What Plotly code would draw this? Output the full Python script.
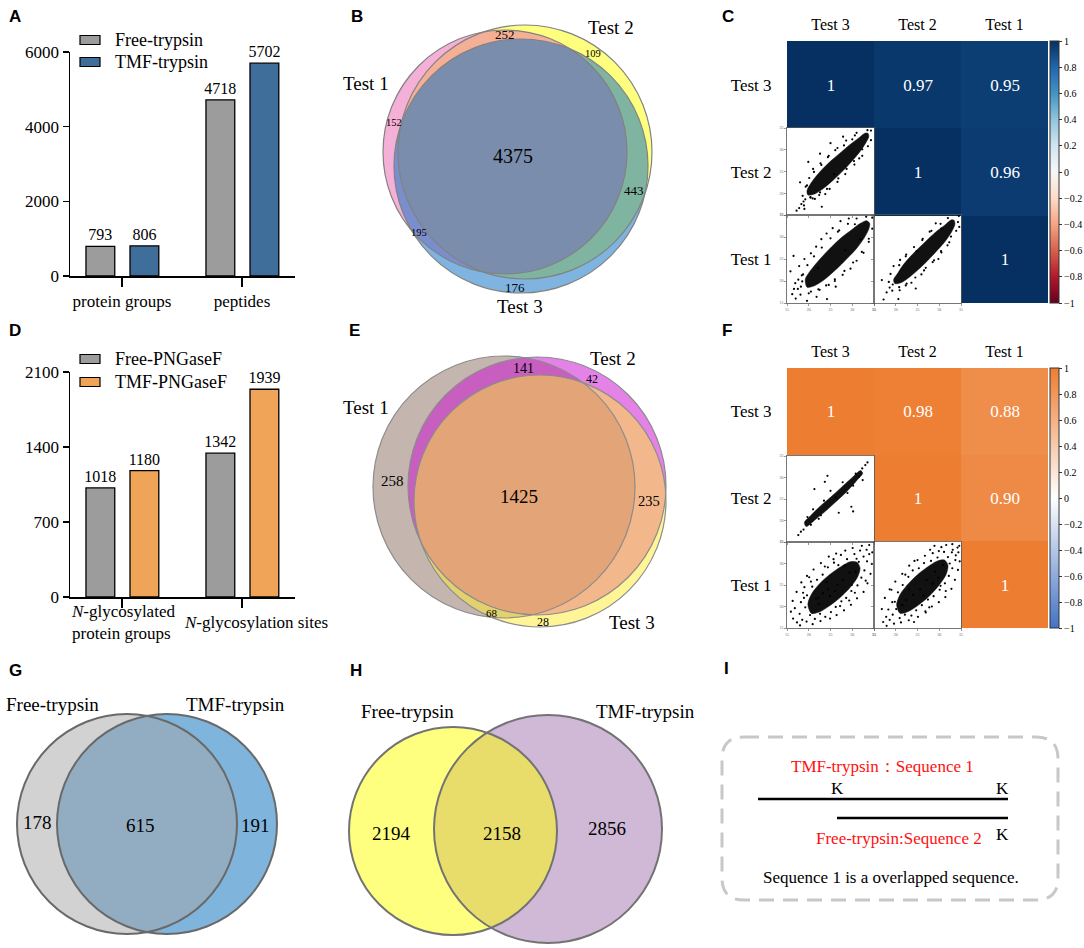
import plotly.graph_objects as go

W, H = 1084, 948
SERIF = "Liberation Serif"
SANS = "Liberation Sans"

# ============================ DATA ============================
# Panel A
cats_A = ["protein groups", "peptides"]
free_trypsin = [793, 4718]
tmf_trypsin = [806, 5702]
yticks_A = [0, 2000, 4000, 6000]
legend_A = ["Free-trypsin", "TMF-trypsin"]

# Panel D
cats_D = ["<i>N</i>-glycosylated<br>protein groups", "<i>N</i>-glycosylation sites"]
free_pngasef = [1018, 1342]
tmf_pngasef = [1180, 1939]
yticks_D = [0, 700, 1400, 2100]
legend_D = ["Free-PNGaseF", "TMF-PNGaseF"]

# Panels B and E (three-set Venn diagrams)
venn_sets = ["Test 1", "Test 2", "Test 3"]
venn_regions = ["1", "2", "3", "12", "13", "23", "123"]
venn_B_counts = [152, 109, 176, 252, 195, 443, 4375]
venn_E_counts = [258, 42, 28, 141, 68, 235, 1425]

# Panels C and F (correlation matrices, rows/cols = Test 3, Test 2, Test 1)
corr_labels = ["Test 3", "Test 2", "Test 1"]
corr_C = [[1, 0.97, 0.95], [None, 1, 0.96], [None, None, 1]]
corr_F = [[1, 0.98, 0.88], [None, 1, 0.90], [None, None, 1]]
cbar_ticks = [1, 0.8, 0.6, 0.4, 0.2, 0, -0.2, -0.4, -0.6, -0.8, -1]
scatter_ticks = [15, 20, 25, 30, 35]

# Scatter clouds: dense core outline + scattered points
C_t3_t2_core = [(19.8, 19.6), (21.5, 19.9), (23.5, 21.2), (25.5, 22.9), (27.5, 24.8), (29.5, 26.9), (31.5, 29.2),
                (33.0, 31.4), (33.8, 33.0), (33.6, 33.8), (32.9, 33.8), (31.5, 32.7), (29.5, 31.2), (27.5, 29.5),
                (25.5, 27.8), (23.5, 25.9), (21.6, 23.8), (20.3, 22.0), (19.6, 20.6)]
C_t3_t2_pts = [(17.2, 16.0), (17.8, 16.6), (18.3, 17.5), (18.9, 17.2), (19.2, 18.6), (18.6, 19.4), (19.6, 21.8),
               (20.1, 23.5), (21.0, 25.6), (20.4, 19.0), (22.6, 20.2), (24.2, 21.0), (22.9, 26.5), (24.4, 28.3),
               (26.1, 29.9), (26.8, 23.4), (28.7, 25.6), (30.4, 27.4), (28.1, 31.0), (30.0, 32.4), (32.3, 30.1),
               (33.5, 34.5), (34.3, 34.4), (19.0, 16.4), (21.4, 18.7), (25.0, 31.5), (23.8, 19.8), (27.9, 33.0),
               (31.6, 28.0), (18.0, 22.5), (19.9, 27.2), (22.6, 29.1), (23.0, 16.9),
               (20.9, 18.8), (22.4, 19.6), (24.8, 21.0), (26.6, 22.6), (28.4, 24.4), (30.5, 26.6), (32.3, 28.6),
               (33.6, 30.8), (21.2, 24.9), (22.7, 26.9), (24.6, 28.6), (26.6, 30.4), (28.6, 32.1), (30.6, 33.3),
               (18.8, 18.1), (19.3, 21.5), (20.4, 19.1), (31.0, 33.9), (34.3, 32.2), (25.8, 24.4)]
C_t3_t1_core = [(19.6, 18.6), (21.0, 18.8), (23.0, 19.9), (25.0, 21.5), (27.0, 23.3), (29.0, 25.3), (31.0, 27.4),
                (32.7, 29.7), (33.8, 31.8), (34.0, 33.1), (33.3, 33.7), (31.7, 33.0), (29.8, 31.6), (27.8, 30.1),
                (25.8, 28.3), (23.8, 26.3), (21.8, 24.1), (20.2, 22.1), (19.2, 20.4)]
C_t3_t1_pts = [(16.2, 17.0), (17.0, 16.0), (17.5, 18.2), (18.1, 16.9), (16.9, 19.5), (18.4, 21.3), (17.8, 23.4),
               (19.0, 25.0), (20.5, 26.3), (21.7, 27.8), (22.9, 29.5), (24.1, 30.8), (25.5, 32.0), (27.3, 33.6),
               (29.2, 34.2), (20.0, 17.2), (21.8, 16.4), (22.5, 18.0), (24.6, 19.1), (26.0, 20.0), (27.8, 21.4),
               (29.6, 22.8), (31.0, 24.6), (32.6, 26.4), (33.8, 28.9), (24.2, 15.9), (19.6, 15.5), (15.8, 22.2),
               (16.5, 25.7), (28.4, 27.0), (30.6, 32.9), (33.2, 34.6), (18.5, 19.9), (22.1, 22.9), (26.7, 31.2),
               (31.9, 29.4),
               (20.5, 17.6), (22.2, 18.1), (24.0, 19.0), (26.0, 20.4), (28.2, 22.3), (30.2, 24.2), (32.2, 26.6),
               (33.8, 29.6), (34.6, 31.9), (18.7, 21.5), (19.7, 23.6), (21.2, 25.6), (23.0, 27.6), (25.0, 29.7),
               (27.0, 31.5), (29.0, 33.0), (31.0, 34.2), (18.2, 18.7), (17.6, 20.3), (34.6, 34.4), (26.2, 18.7),
               (16.6, 18.2)]
C_t2_t1_core = [(19.8, 19.4), (21.2, 19.6), (23.2, 20.9), (25.2, 22.6), (27.2, 24.5), (29.2, 26.6), (31.2, 28.8),
                (32.8, 31.1), (33.6, 32.9), (33.4, 33.8), (32.8, 33.9), (31.4, 32.8), (29.4, 31.3), (27.4, 29.5),
                (25.4, 27.6), (23.4, 25.6), (21.6, 23.5), (20.4, 21.7), (19.5, 20.3)]
C_t2_t1_pts = [(16.8, 20.2), (17.9, 17.4), (18.6, 18.5), (18.8, 21.6), (19.5, 23.4), (17.2, 15.8), (20.9, 17.9),
               (22.3, 19.0), (23.6, 19.6), (24.8, 26.8), (22.4, 26.0), (26.1, 29.3), (27.8, 31.2), (29.2, 33.1),
               (26.9, 23.0), (28.8, 24.7), (30.4, 26.8), (31.9, 28.1), (32.7, 30.1), (34.3, 33.4), (34.5, 34.8),
               (30.5, 31.9), (21.0, 24.8), (25.9, 21.5), (19.3, 19.2), (20.6, 15.9),
               (20.8, 18.6), (22.5, 19.4), (24.5, 20.8), (26.5, 22.4), (28.5, 24.3), (30.5, 26.5), (32.3, 28.8),
               (33.9, 31.4), (20.8, 23.6), (22.3, 25.6), (24.2, 27.7), (26.2, 29.6), (28.2, 31.4), (30.3, 33.0),
               (32.0, 34.3), (18.4, 19.8), (19.2, 17.8), (34.6, 32.3), (24.6, 18.3), (29.8, 25.0)]
F_t3_t2_core = [(19.4, 18.6), (21.5, 20.2), (24.0, 22.3), (26.5, 24.6), (29.0, 27.0), (31.3, 29.6), (32.4, 31.0),
                (31.9, 31.6), (30.0, 30.0), (27.5, 27.7), (25.0, 25.4), (22.5, 23.2), (20.3, 21.0), (19.0, 19.6)]
F_t3_t2_pts = [(17.6, 16.6), (18.2, 17.4), (18.8, 17.9), (20.5, 19.0), (19.7, 20.8), (21.0, 22.6), (22.8, 21.2),
               (23.5, 24.6), (22.3, 20.4), (25.0, 26.9), (26.2, 25.3), (27.8, 28.9), (28.9, 26.4), (30.2, 28.1),
               (30.8, 30.9), (32.3, 32.1), (33.0, 32.9), (33.5, 33.5), (21.3, 27.3), (26.9, 21.8), (29.8, 23.2),
               (32.4, 29.4), (31.5, 30.2), (23.7, 29.0), (30.2, 22.1), (24.3, 30.4)]
F_t3_t1_core = [(20.6, 18.4), (22.4, 18.7), (24.7, 20.1), (27.1, 22.0), (29.4, 24.3), (31.2, 26.8), (31.8, 28.9),
                (31.1, 30.3), (29.5, 30.4), (27.3, 29.2), (24.9, 27.5), (22.6, 25.4), (20.7, 23.0), (19.8, 20.5)]
F_t3_t1_pts = [(16.4, 17.2), (17.3, 16.3), (17.9, 18.3), (18.5, 16.9), (19.2, 19.8), (18.2, 21.0), (19.6, 22.6),
               (20.3, 18.0), (21.4, 17.1), (22.6, 18.3), (23.8, 17.6), (20.8, 24.6), (21.9, 26.2), (23.2, 27.4),
               (22.2, 22.0), (24.5, 24.0), (24.4, 29.1), (25.8, 30.2), (26.2, 19.9), (27.5, 21.2), (28.6, 22.0),
               (29.8, 23.6), (31.2, 24.9), (32.1, 26.7), (32.8, 28.4), (33.4, 30.5), (33.9, 32.2), (32.6, 31.6),
               (31.5, 30.4), (30.5, 32.2), (28.8, 31.0), (27.4, 32.0), (26.8, 29.6), (29.4, 27.9), (26.0, 23.6),
               (27.9, 26.1), (24.9, 22.4), (23.3, 23.1), (22.3, 20.5), (30.8, 28.1), (19.0, 24.5), (20.1, 26.8),
               (16.8, 19.6), (25.1, 18.7), (31.8, 33.0), (33.3, 33.2), (18.7, 23.2), (29.9, 25.0), (28.2, 29.5),
               (26.6, 25.1), (24.1, 25.7), (21.6, 21.7),
               (18.0, 15.6), (19.5, 16.5), (20.9, 15.9), (22.7, 16.6), (24.9, 17.2), (26.4, 18.0), (28.1, 19.1),
               (29.7, 20.4), (31.1, 21.9), (32.6, 23.4), (33.5, 25.4), (34.2, 27.6), (34.5, 29.9), (34.6, 32.6),
               (33.9, 34.3), (32.2, 34.1), (30.1, 33.6), (28.4, 33.0), (26.3, 32.3), (24.6, 31.6), (22.8, 30.1),
               (21.1, 28.6), (19.6, 27.1), (18.3, 25.6), (17.2, 23.4), (16.3, 21.3), (15.9, 18.8), (33.1, 26.0),
               (30.6, 23.2), (27.2, 20.1), (23.7, 29.3), (20.5, 25.8), (18.9, 22.0), (31.0, 31.1), (25.7, 31.0),
               (29.3, 21.4)]
F_t2_t1_core = [(21.0, 18.4), (23.0, 18.9), (25.3, 20.4), (27.8, 22.5), (30.0, 25.0), (31.6, 27.5), (32.0, 29.6),
                (31.2, 30.8), (29.6, 30.6), (27.3, 29.2), (25.0, 27.4), (22.8, 25.2), (21.0, 22.8), (20.2, 20.4)]
F_t2_t1_pts = [(17.1, 16.4), (17.8, 17.6), (18.6, 16.9), (18.3, 19.3), (19.3, 18.1), (19.8, 21.1), (20.5, 23.3),
               (21.6, 25.0), (22.9, 26.9), (23.9, 28.4), (20.9, 17.3), (22.1, 18.1), (23.6, 17.9), (24.7, 19.1),
               (26.0, 20.3), (27.4, 21.6), (28.7, 22.4), (30.1, 23.9), (31.3, 25.4), (32.2, 27.1), (33.0, 28.9),
               (33.7, 30.8), (34.4, 32.6), (34.6, 34.1), (33.1, 33.2), (32.0, 31.5), (31.1, 32.7), (29.6, 31.4),
               (28.1, 30.6), (26.5, 30.1), (25.3, 28.9), (27.1, 26.2), (29.1, 28.1), (25.6, 24.0), (24.0, 22.7),
               (22.4, 21.5), (21.5, 20.3), (26.4, 22.5), (28.5, 25.3), (30.9, 29.6), (32.4, 30.0), (19.0, 23.9),
               (20.1, 19.4), (24.3, 30.6), (27.9, 33.2), (30.5, 33.8), (26.9, 18.6), (31.5, 23.6), (23.1, 24.0),
               (29.8, 26.7),
               (17.9, 15.5), (19.6, 16.0), (21.2, 16.3), (23.0, 16.8), (25.1, 17.6), (26.8, 18.9), (28.3, 20.0),
               (29.9, 21.0), (31.4, 22.2), (32.8, 24.1), (33.6, 26.2), (34.3, 28.5), (34.7, 30.5), (34.2, 33.7),
               (33.0, 34.5), (31.6, 34.3), (29.9, 32.9), (28.5, 32.4), (26.7, 31.8), (25.0, 30.8), (23.1, 29.5),
               (21.5, 27.6), (19.9, 25.8), (18.6, 24.0), (17.5, 22.0), (16.8, 19.4), (32.9, 32.6), (30.3, 24.8),
               (27.7, 19.8), (22.2, 27.4), (19.2, 21.0), (24.2, 16.4), (28.9, 34.1), (33.8, 31.9)]

# Panels G and H (two-set Venn diagrams)
venn2_sets = ["Free-trypsin", "TMF-trypsin"]
venn2_regions = ["free", "tmf", "both"]
venn_G_counts = [178, 191, 615]
venn_H_counts = [2194, 2856, 2158]

# Panel I
I_top = "TMF-trypsin：Sequence 1"
I_bottom = "Free-trypsin:Sequence 2"
I_caption = "Sequence 1 is a overlapped sequence."
I_residue = "K"

# ============================ STYLE / LAYOUT ============================
GREY_BAR = "#9C9C9C"
BLUE_BAR = "#3F6E9B"
ORANGE_BAR = "#F0A458"
RDBU = [[0.0, "rgb(103,0,31)"], [0.1, "rgb(178,24,43)"], [0.2, "rgb(214,96,77)"], [0.3, "rgb(244,165,130)"],
        [0.4, "rgb(253,219,199)"], [0.5, "rgb(247,247,247)"], [0.6, "rgb(209,229,240)"], [0.7, "rgb(146,197,222)"],
        [0.8, "rgb(67,147,195)"], [0.9, "rgb(33,102,172)"], [1.0, "rgb(5,48,97)"]]
BLUE_ORANGE = [[0.0, "#4472C4"], [0.5, "#FFFFFF"], [1.0, "#ED7D31"]]


def fy(p):
    return 1 - p / H


traces = []
layout = dict(width=W, height=H, margin=dict(l=0, r=0, t=0, b=0), paper_bgcolor="white",
              plot_bgcolor="rgba(0,0,0,0)", showlegend=False, hovermode=False, barmode="overlay",
              font=dict(family=SERIF, color="black"), template="none")
shapes = []
annotations = []


def txt(x, y, s, size, color="black", family=SERIF, xanchor="center", yanchor="middle", align="center"):
    annotations.append(dict(x=x, y=y, xref="x11", yref="y11", text=s, showarrow=False,
                            font=dict(size=size, color=color, family=family),
                            xanchor=xanchor, yanchor=yanchor, align=align))


# ---------- bar panels ----------
def bar_axes(n, top_px, bottom_px, ymax, yticks, ticktext):
    layout[f"xaxis{n}"] = dict(domain=[70 / W, 295 / W], range=[-0.433, 1.442], tickvals=[0, 1],
                               ticktext=ticktext, showticklabels=ticktext is not None, anchor=f"y{n}",
                               showline=True, linecolor="black", linewidth=1.5, ticks="outside", ticklen=9,
                               tickwidth=1.5, tickcolor="black", showgrid=False, zeroline=False,
                               tickfont=dict(family=SERIF, size=17, color="black"))
    layout[f"yaxis{n}"] = dict(domain=[fy(bottom_px), fy(top_px)], range=[0, ymax], tickvals=yticks,
                               anchor=f"x{n}", showline=True, linecolor="black", linewidth=1.5, ticks="outside",
                               ticklen=6, tickwidth=1.5, tickcolor="black", showgrid=False, zeroline=False,
                               tickfont=dict(family=SERIF, size=17, color="black"))


def bar_traces(n, free_vals, tmf_vals, tmf_color):
    for vals, off, col in [(free_vals, -0.30, GREY_BAR), (tmf_vals, 0.067, tmf_color)]:
        traces.append(go.Bar(x=[0, 1], y=vals, offset=off, width=0.24, xaxis=f"x{n}", yaxis=f"y{n}",
                             marker=dict(color=col, line=dict(color="black", width=1.3)),
                             texttemplate="%{y}", textposition="outside", cliponaxis=False,
                             constraintext="none",
                             textfont=dict(family=SERIF, size=16, color="black"), hoverinfo="skip"))


bar_axes("", 52, 276, 6000, yticks_A, cats_A)
bar_traces("", free_trypsin, tmf_trypsin, BLUE_BAR)
bar_axes(2, 372, 597, 2100, yticks_D, None)
bar_traces(2, free_pngasef, tmf_pngasef, ORANGE_BAR)

# manual legends
for labels, colors, ys in [(legend_A, [GREY_BAR, BLUE_BAR], [40, 62]), (legend_D, [GREY_BAR, ORANGE_BAR], [359, 382])]:
    for lab, col, yc in zip(labels, colors, ys):
        shapes.append(dict(type="rect", xref="x11", yref="y11", x0=80, x1=100, y0=yc - 4.5, y1=yc + 4.5,
                           fillcolor=col, line=dict(color="black", width=1.2), layer="above"))
        txt(113, yc, lab, 18, xanchor="left")

# D category labels
txt(69, 622, cats_D[0], 17, xanchor="left", align="left")
txt(182, 622, cats_D[1], 17, xanchor="left")

# ---------- correlation panels ----------
cols_px = [787, 874, 961, 1048]


def corr_text(m):
    return [["" if v is None else ("1" if v == 1 else f"{v:.2f}") for v in row] for row in m]


cbar_text = [("−" if t < 0 else "") + f"{abs(t):g}" for t in cbar_ticks]


def corr_panel(n, rows_px, z, cscale, scatter_specs):
    top, bottom = rows_px[0], rows_px[-1]
    layout[f"xaxis{n}"] = dict(domain=[cols_px[0] / W, cols_px[-1] / W], range=[-0.5, 2.5], side="top",
                               tickvals=[0, 1, 2], ticktext=corr_labels, ticks="outside", ticklen=4,
                               tickcolor="rgba(0,0,0,0)", showline=False, showgrid=False, zeroline=False,
                               anchor=f"y{n}", tickfont=dict(family=SERIF, size=16, color="black"))
    layout[f"yaxis{n}"] = dict(domain=[fy(bottom), fy(top)], range=[2.5, -0.5], tickvals=[0, 1, 2],
                               ticktext=corr_labels, ticks="outside", ticklen=11, tickcolor="rgba(0,0,0,0)",
                               showline=False, showgrid=False, zeroline=False, anchor=f"x{n}",
                               tickfont=dict(family=SERIF, size=17, color="black"))
    traces.append(go.Heatmap(z=z, x=[0, 1, 2], y=[0, 1, 2], xaxis=f"x{n}", yaxis=f"y{n}", zmin=-1, zmax=1,
                             colorscale=cscale, text=corr_text(z), texttemplate="%{text}",
                             textfont=dict(family=SERIF, size=17, color="white"), hoverinfo="skip",
                             colorbar=dict(x=1050 / W, xanchor="left", y=fy(top), yanchor="top",
                                           len=(bottom - top) / H, lenmode="fraction", thickness=9,
                                           thicknessmode="pixels", xpad=0, ypad=0, outlinewidth=1,
                                           outlinecolor="#333", tickvals=cbar_ticks, ticktext=cbar_text,
                                           ticks="outside", ticklen=3, tickcolor="#333",
                                           tickfont=dict(family=SERIF, size=10, color="black"))))
    for ax_n, row, col, core, pts in scatter_specs:
        x0, x1 = cols_px[col], cols_px[col + 1]
        y0, y1 = rows_px[row], rows_px[row + 1]
        common = dict(range=[15, 35], tickvals=scatter_ticks, showline=True, mirror=True, linecolor="#555",
                      linewidth=0.8, ticks="outside", ticklen=2, tickwidth=0.6, tickcolor="#555",
                      showgrid=False, zeroline=False, tickfont=dict(size=4, color="#666", family=SERIF))
        layout[f"xaxis{ax_n}"] = dict(domain=[x0 / W, x1 / W], anchor=f"y{ax_n}", showticklabels=(row == 2), **common)
        layout[f"yaxis{ax_n}"] = dict(domain=[fy(y1), fy(y0)], anchor=f"x{ax_n}", showticklabels=(col == 0), **common)
        cx, cy = zip(*core)
        traces.append(go.Scatter(x=list(cx) + [cx[0]], y=list(cy) + [cy[0]], mode="lines", fill="toself",
                                 fillcolor="#111", line=dict(color="#111", width=0.5, shape="spline", smoothing=0.8),
                                 xaxis=f"x{ax_n}", yaxis=f"y{ax_n}", hoverinfo="skip"))
        px_, py_ = zip(*pts)
        traces.append(go.Scatter(x=px_, y=py_, mode="markers", marker=dict(color="black", size=2.2),
                                 xaxis=f"x{ax_n}", yaxis=f"y{ax_n}", hoverinfo="skip"))


corr_panel(3, [41, 128, 215, 303], corr_C, RDBU,
           [(5, 1, 0, C_t3_t2_core, C_t3_t2_pts), (6, 2, 0, C_t3_t1_core, C_t3_t1_pts),
            (7, 2, 1, C_t2_t1_core, C_t2_t1_pts)])
corr_panel(4, [368, 456, 542, 628], corr_F, BLUE_ORANGE,
           [(8, 1, 0, F_t3_t2_core, F_t3_t2_pts), (9, 2, 0, F_t3_t1_core, F_t3_t1_pts),
            (10, 2, 1, F_t2_t1_core, F_t2_t1_pts)])

# ---------- pixel overlay axis for diagrams ----------
layout["xaxis11"] = dict(domain=[0, 1], range=[0, W], visible=False, anchor="y11", fixedrange=True)
layout["yaxis11"] = dict(domain=[0, 1], range=[H, 0], visible=False, anchor="x11", fixedrange=True)
traces.append(go.Scatter(x=[None], y=[None], xaxis="x11", yaxis="y11", hoverinfo="skip"))


def venn(geom, fills, order, outline, lw, region_names, counts, region_pos, set_pos, set_size):
    for s in order:
        cx, cy, r = geom[s]
        shapes.append(dict(type="circle", xref="x11", yref="y11", x0=cx - r, x1=cx + r, y0=cy - r, y1=cy + r,
                           fillcolor=fills[s], line=dict(width=0), layer="above"))
    for s in order:
        cx, cy, r = geom[s]
        shapes.append(dict(type="circle", xref="x11", yref="y11", x0=cx - r, x1=cx + r, y0=cy - r, y1=cy + r,
                           fillcolor="rgba(0,0,0,0)", line=dict(color=outline, width=lw), layer="above"))
    for reg, cnt in zip(region_names, counts):
        x, y, sz = region_pos[reg]
        txt(x, y, str(cnt), sz)
    for s, (x, y, anc) in set_pos.items():
        txt(x, y, s, set_size, xanchor=anc)


# Panel B
venn({"Test 1": (505, 152, 122), "Test 2": (525, 152, 127), "Test 3": (521, 166, 127)},
     {"Test 1": "rgba(233,97,173,0.5)", "Test 2": "rgba(255,255,0,0.5)", "Test 3": "rgba(0,105,195,0.5)"},
     ["Test 2", "Test 1", "Test 3"], "rgb(130,130,130)", 1.2, venn_regions, venn_B_counts,
     {"1": (394, 122, 10.5), "2": (593, 53, 10.5), "3": (515, 287, 13), "12": (505, 34, 13),
      "13": (419, 232, 10.5), "23": (634, 190, 13), "123": (513, 156, 20)},
     {"Test 1": (391, 83, "right"), "Test 2": (611, 27, "center"), "Test 3": (520, 306, "center")}, 19)

# Panel E
venn({"Test 1": (504, 487, 131), "Test 2": (537, 486, 129), "Test 3": (540, 501, 126)},
     {"Test 1": "rgba(137,109,93,0.5)", "Test 2": "rgba(201,5,209,0.5)", "Test 3": "rgba(255,235,45,0.5)"},
     ["Test 1", "Test 2", "Test 3"], "rgb(140,140,140)", 1.2, venn_regions, venn_E_counts,
     {"1": (392, 481, 15), "2": (592, 379, 12), "3": (543, 622, 12), "12": (523, 368, 14),
      "13": (492, 613, 11), "23": (649, 501, 14.5), "123": (519, 496, 19)},
     {"Test 1": (391, 407, "right"), "Test 2": (613, 358, "center"), "Test 3": (632, 622, "center")}, 19)

# Panel G
venn({"Free-trypsin": (127, 824, 110), "TMF-trypsin": (167, 824, 110)},
     {"Free-trypsin": "rgba(165,165,165,0.5)", "TMF-trypsin": "rgba(0,105,185,0.5)"},
     ["TMF-trypsin", "Free-trypsin"], "rgb(105,105,105)", 2, venn2_regions, venn_G_counts,
     {"free": (37, 822, 19), "tmf": (255, 825, 19), "both": (140, 825, 19)},
     {"Free-trypsin": (52, 704, "center"), "TMF-trypsin": (235, 704, "center")}, 19)

# Panel H
venn({"Free-trypsin": (453, 831, 104), "TMF-trypsin": (548, 829, 114)},
     {"Free-trypsin": "rgba(255,255,0,0.5)", "TMF-trypsin": "rgba(161,115,175,0.5)"},
     ["TMF-trypsin", "Free-trypsin"], "rgb(115,115,115)", 2, venn2_regions, venn_H_counts,
     {"free": (391, 833, 19), "tmf": (607, 828, 19), "both": (502, 833, 19)},
     {"Free-trypsin": (407, 711, "center"), "TMF-trypsin": (645, 711, "center")}, 19)

# Panel I (schematic)
l, R, t, b, r = 722, 1058, 737, 900, 22
shapes.append(dict(type="path", xref="x11", yref="y11", layer="above",
                   path=(f"M {l + r},{t} L {R - r},{t} Q {R},{t} {R},{t + r} L {R},{b - r} Q {R},{b} {R - r},{b} "
                         f"L {l + r},{b} Q {l},{b} {l},{b - r} L {l},{t + r} Q {l},{t} {l + r},{t} Z"),
                   line=dict(color="#C8C8C8", width=3, dash="15px,9px"), fillcolor="rgba(0,0,0,0)"))
shapes.append(dict(type="line", xref="x11", yref="y11", x0=758, x1=1008, y0=799, y1=799,
                   line=dict(color="black", width=2.5), layer="above"))
shapes.append(dict(type="line", xref="x11", yref="y11", x0=837, x1=1008, y0=818, y1=818,
                   line=dict(color="black", width=2.5), layer="above"))
txt(882, 766, I_top, 17, color="#FF1010")
txt(899, 838, I_bottom, 17, color="#FF1010")
txt(837, 788, I_residue, 17)
txt(1002, 788, I_residue, 17)
txt(1002, 834, I_residue, 17)
txt(891, 877, I_caption, 17)

# panel letters
for letter, x, y in [("A", 7, 16), ("B", 349, 16), ("C", 720, 16), ("D", 7, 330), ("E", 347, 330),
                     ("F", 720, 330), ("G", 7, 670), ("H", 348, 670), ("I", 722, 668)]:
    txt(x, y, f"<b>{letter}</b>", 17, family=SANS, xanchor="left")

layout["shapes"] = shapes
layout["annotations"] = annotations

fig = go.Figure(data=traces, layout=layout)
# the page's default 8px body margin would shift the 1084x948 figure; remove it once the plot is drawn
fig.write_html("out.html", config={"displayModeBar": False, "staticPlot": True},
               post_script="document.body.style.margin='0px';")
